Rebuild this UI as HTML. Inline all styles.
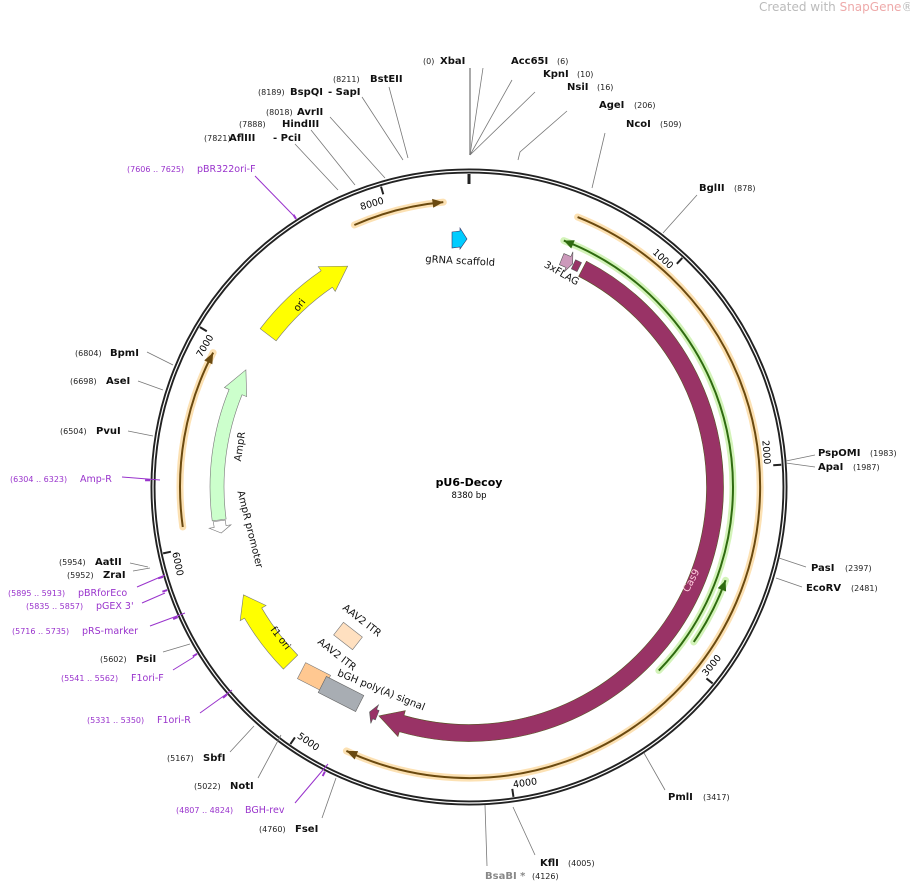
<!DOCTYPE html>
<html><head><meta charset="utf-8"><style>
body{margin:0;background:#fff;}
svg{display:block;font-family:"DejaVu Sans","Liberation Sans",sans-serif;}
.n{font-size:8px;fill:#222}
.b{font-size:10px;font-weight:bold;fill:#111}
.p{font-size:9.5px;fill:#9933cc}
.pn{font-size:8px;fill:#9933cc}
.l{stroke:#777;stroke-width:0.8;fill:none}
.lp{stroke:#9933cc;stroke-width:1;fill:none}
.f{font-size:10px;fill:#111}
</style></head><body>
<svg id="s" width="910" height="883" viewBox="0 0 910 883" xmlns="http://www.w3.org/2000/svg">
<text x="759" y="11" style="font-size:12px;fill:#bbb">Created with <tspan fill="#eaa">SnapGene</tspan>®</text>
<g id="g"></g>
<text x="423" y="64" class="n">(0)</text><text x="440" y="64" class="b">XbaI</text>
<text x="511" y="64" class="b">Acc65I</text><text x="557" y="64" class="n">(6)</text>
<text x="543" y="77" class="b">KpnI</text><text x="577" y="77" class="n">(10)</text>
<text x="567" y="90" class="b">NsiI</text><text x="597" y="90" class="n">(16)</text>
<text x="599" y="108" class="b">AgeI</text><text x="634" y="108" class="n">(206)</text>
<text x="626" y="127" class="b">NcoI</text><text x="660" y="127" class="n">(509)</text>
<text x="699" y="191" class="b">BglII</text><text x="734" y="191" class="n">(878)</text>
<text x="818" y="456" class="b">PspOMI</text><text x="870" y="456" class="n">(1983)</text>
<text x="818" y="470" class="b">ApaI</text><text x="853" y="470" class="n">(1987)</text>
<text x="811" y="571" class="b">PasI</text><text x="845" y="571" class="n">(2397)</text>
<text x="806" y="591" class="b">EcoRV</text><text x="851" y="591" class="n">(2481)</text>
<text x="668" y="800" class="b">PmlI</text><text x="703" y="800" class="n">(3417)</text>
<text x="540" y="866" class="b">KflI</text><text x="568" y="866" class="n">(4005)</text>
<text x="485" y="879" class="b" style="fill:#888">BsaBI *</text><text x="532" y="879" class="n">(4126)</text>
<text x="259" y="832" class="n">(4760)</text><text x="295" y="832" class="b">FseI</text>
<text x="176" y="813" class="pn">(4807 .. 4824)</text><text x="245" y="813" class="p">BGH-rev</text>
<text x="194" y="789" class="n">(5022)</text><text x="230" y="789" class="b">NotI</text>
<text x="167" y="761" class="n">(5167)</text><text x="203" y="761" class="b">SbfI</text>
<text x="87" y="723" class="pn">(5331 .. 5350)</text><text x="157" y="723" class="p">F1ori-R</text>
<text x="61" y="681" class="pn">(5541 .. 5562)</text><text x="131" y="681" class="p">F1ori-F</text>
<text x="100" y="662" class="n">(5602)</text><text x="136" y="662" class="b">PsiI</text>
<text x="12" y="634" class="pn">(5716 .. 5735)</text><text x="82" y="634" class="p">pRS-marker</text>
<text x="26" y="609" class="pn">(5835 .. 5857)</text><text x="96" y="609" class="p">pGEX 3'</text>
<text x="8" y="596" class="pn">(5895 .. 5913)</text><text x="78" y="596" class="p">pBRforEco</text>
<text x="67" y="578" class="n">(5952)</text><text x="103" y="578" class="b">ZraI</text>
<text x="59" y="565" class="n">(5954)</text><text x="95" y="565" class="b">AatII</text>
<text x="10" y="482" class="pn">(6304 .. 6323)</text><text x="80" y="482" class="p">Amp-R</text>
<text x="60" y="434" class="n">(6504)</text><text x="96" y="434" class="b">PvuI</text>
<text x="70" y="384" class="n">(6698)</text><text x="106" y="384" class="b">AseI</text>
<text x="75" y="356" class="n">(6804)</text><text x="110" y="356" class="b">BpmI</text>
<text x="127" y="172" class="pn">(7606 .. 7625)</text><text x="197" y="172" class="p">pBR322ori-F</text>
<text x="204" y="141" class="n">(7821)</text><text x="229" y="141" class="b">AflIII</text><text x="273" y="141" class="b">- PciI</text>
<text x="239" y="127" class="n">(7888)</text><text x="282" y="127" class="b">HindIII</text>
<text x="266" y="115" class="n">(8018)</text><text x="297" y="115" class="b">AvrII</text>
<text x="258" y="95" class="n">(8189)</text><text x="290" y="95" class="b">BspQI</text><text x="328" y="95" class="b">- SapI</text>
<text x="333" y="82" class="n">(8211)</text><text x="370" y="82" class="b">BstEII</text>
<path class="l" d="M470,155V68" style="stroke:#aaa;stroke-width:2"/>
<path class="l" d="M470,155L483,68M470,155L512,80M470,155L535,92M518,160L520,152L567,111M592,188L605,133M663,233L697,195"/>
<path class="l" d="M786,461L815,455M786,463L815,467M779,558L806,567M776,578L802,587M644,753L665,790M513,807L535,855M485,805L487,866"/>
<path class="l" d="M336,778L322,818M281,735L258,778M254,726L230,752M190,644L163,652M150,568L133,571M148,567L130,563M153,436L128,431M163,390L138,381M173,365L147,352"/>
<path class="l" d="M338,190L295,144M355,185L311,130M385,178L330,117M403,160L362,97M408,158L389,87"/>
<path class="lp" d="M328,764L295,803M232,690L200,713M194,657L173,670M185,613L150,626M165,593L142,603M165,575L137,587M160,480L122,477M293,215L255,176"/>
<text x="469" y="486" text-anchor="middle" style="font-size:11px;font-weight:bold">pU6-Decoy</text>
<text x="469" y="498" text-anchor="middle" style="font-size:8.5px">8380 bp</text>
<text x="460" y="264" text-anchor="middle" transform="rotate(3 460 264)" class="f">gRNA scaffold</text>
<text x="560" y="276" text-anchor="middle" transform="rotate(30 560 276)" class="f">3xFLAG</text>
<text x="694" y="582" text-anchor="middle" transform="rotate(-62 694 582)" class="f" style="fill:#fcd">Cas9</text>
<text x="302" y="307" text-anchor="middle" transform="rotate(-52 302 307)" class="f">ori</text>
<text x="243" y="447" text-anchor="middle" transform="rotate(-82 243 447)" class="f">AmpR</text>
<text x="247" y="530" text-anchor="middle" transform="rotate(76 247 530)" class="f">AmpR promoter</text>
<text x="278" y="640" text-anchor="middle" transform="rotate(52 278 640)" class="f">f1 ori</text>
<text x="360" y="623" text-anchor="middle" transform="rotate(38 360 623)" class="f">AAV2 ITR</text>
<text x="335" y="657" text-anchor="middle" transform="rotate(38 335 657)" class="f">AAV2 ITR</text>
<text x="380" y="693" text-anchor="middle" transform="rotate(22 380 693)" class="f">bGH poly(A) signal</text>
</svg>
<script>
var cx=469,cy=487,N=8380,g=document.getElementById('g'),NS='http://www.w3.org/2000/svg';
function A(p){return p/N*2*Math.PI;}
function P(p,r){var a=A(p);return [cx+r*Math.sin(a),cy-r*Math.cos(a)];}
function pt(p,r){var q=P(p,r);return q[0].toFixed(2)+','+q[1].toFixed(2);}
function arc(s,e,r,cw){var d=Math.abs(e-s)>N/2?1:0;return 'A'+r+','+r+' 0 '+d+','+(cw?1:0)+' '+pt(e,r);}
function add(tag,at){var el=document.createElementNS(NS,tag);for(var k in at)el.setAttribute(k,at[k]);g.appendChild(el);return el;}
function feat(s,e,r,w,h,dir,fill,stroke){
 var ro=r+w/2,ri=r-w/2,hw=w/2+5,d;
 if(dir>0){var b=e-h;d='M'+pt(s,ro)+arc(s,b,ro,1)+'L'+pt(b,r+hw)+'L'+pt(e,r)+'L'+pt(b,r-hw)+'L'+pt(b,ri)+arc(b,s,ri,0)+'Z';}
 else if(dir<0){var b=s+h;d='M'+pt(e,ro)+arc(e,b,ro,0)+'L'+pt(b,r+hw)+'L'+pt(s,r)+'L'+pt(b,r-hw)+'L'+pt(b,ri)+arc(b,e,ri,1)+'Z';}
 else{d='M'+pt(s,ro)+arc(s,e,ro,1)+'L'+pt(e,ri)+arc(e,s,ri,0)+'Z';}
 add('path',{d:d,fill:fill,stroke:stroke||'#555','stroke-width':0.6});
}
function line(s,e,r,dir,glow,col){
 add('path',{d:'M'+pt(s,r)+arc(s,e,r,1),fill:'none',stroke:glow,'stroke-width':7,'stroke-linecap':'round',opacity:0.8});
 add('path',{d:'M'+pt(s,r)+arc(s,e,r,1),fill:'none',stroke:col,'stroke-width':2});
 var t=dir>0?e:s,b=dir>0?e-50:s+50;
 add('path',{d:'M'+pt(b,r+4.5)+'L'+pt(t,r)+'L'+pt(b,r-4.5)+'Z',fill:col});
}
add('circle',{cx:cx,cy:cy,r:316,fill:'none',stroke:'#222','stroke-width':5});
add('circle',{cx:cx,cy:cy,r:316,fill:'none',stroke:'#fff','stroke-width':1.2});
add('path',{d:'M'+pt(0,313)+'L'+pt(0,303),stroke:'#222','stroke-width':3});
for(var k=1;k<=8;k++){var p=k*1000;add('path',{d:'M'+pt(p,313)+'L'+pt(p,305),stroke:'#222','stroke-width':2});
 var th=p/N*360,rot,anc;if(th<90||th>270){rot=th>180?th-360:th;anc='end';}else{rot=th-180;anc='start';}
 var q=P(p-6,304);var t=add('text',{x:q[0],y:q[1],'text-anchor':anc,'font-size':'9.5',transform:'rotate('+rot+' '+q[0]+' '+q[1]+')'});
 t.setAttribute('dy',(th<90||th>270)?'8':'0');t.textContent=String(p);}
[[7616],[6313],[5904],[5846],[5725],[5551],[5340],[4815]].forEach(function(a){add('path',{d:'M'+pt(a[0],319)+'L'+pt(a[0],324),stroke:'#9933cc','stroke-width':2});});
line(7830,8260,286,1,'#fbd9a0','#6b4a10');
line(510,4770,291,1,'#fbd9a0','#6b4a10');
line(6100,6930,289,1,'#fbd9a0','#6b4a10');
line(490,3120,264,-1,'#c8f0a8','#2f6b10');
line(2560,2900,273,-1,'#c8f0a8','#2f6b10');
feat(640,4690,246,17,130,1,'#993366','#552');
feat(4700,4745,246,10,30,1,'#993366');
feat(585,620,246,10,0,0,'#993366');
feat(515,580,246,12,25,1,'#cc99bb');
feat(7150,7710,252,20,130,1,'#ffff00','#777');
feat(6110,6930,252,14,130,1,'#ccffcc','#777');
feat(6040,6105,252,12,35,-1,'#ffffff','#777');
feat(5250,5690,250,20,110,1,'#ffff00','#777');
add('path',{d:'M452,232L460,231L460,228L467,239L460,249L460,247L452,248Z',fill:'#00ccff',stroke:'#336','stroke-width':0.6});
add('rect',{x:-12,y:-8,width:24,height:16,fill:'#ffe0c0',stroke:'#777','stroke-width':0.6,transform:'translate(348,636) rotate(38)'});
add('rect',{x:-14,y:-9,width:28,height:18,fill:'#ffc891',stroke:'#777','stroke-width':0.6,transform:'translate(314,677) rotate(27)'});
add('rect',{x:-21,y:-9,width:42,height:18,fill:'#a8adb3',stroke:'#666','stroke-width':0.6,transform:'translate(341,694) rotate(27)'});
</script>
</body></html>
